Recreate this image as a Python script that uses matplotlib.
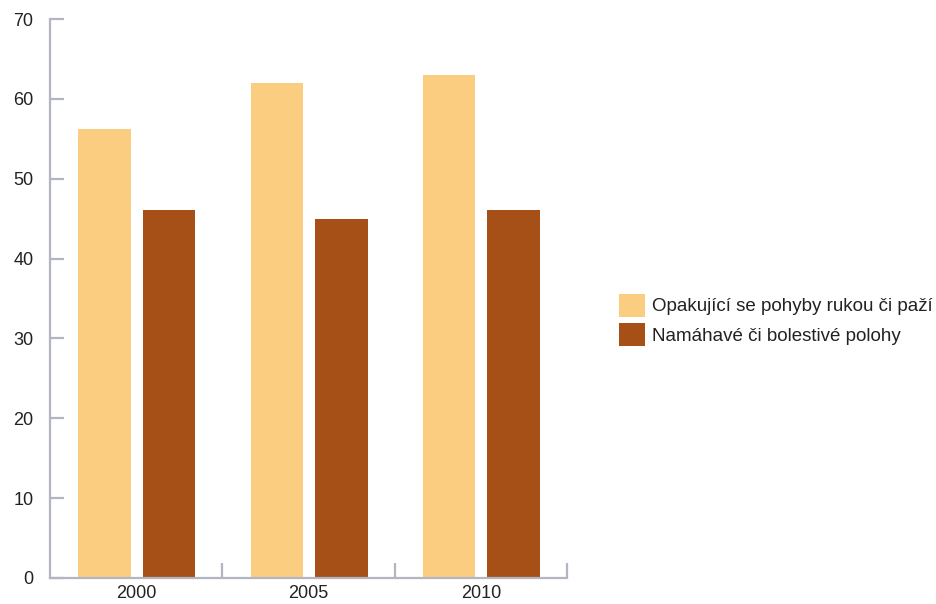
import matplotlib
matplotlib.use("Agg")
import matplotlib.pyplot as plt
import numpy as np
from matplotlib.patches import Patch

plt.rcParams['font.family'] = ['Liberation Sans', 'DejaVu Sans']

years = ["2000", "2005", "2010"]
repetitive_moves = [56.2, 62.0, 63.0]
painful_positions = [46.1, 45.0, 46.1]
series_labels = ["Opakující se pohyby rukou či paží", "Namáhavé či bolestivé polohy"]
y_ticks = [0, 10, 20, 30, 40, 50, 60, 70]

light = "#fbcd80"
dark = "#a65018"
axis_col = "#b3b6c0"
text_col = "#222222"

fig = plt.figure(figsize=(9.37, 6.04), dpi=100)
ax = fig.add_axes([50 / 937, 1 - 578 / 604, (567 - 50) / 937, (578 - 19) / 604])

x = np.arange(len(years))
w = 0.305
ax.bar(x - 0.184, repetitive_moves, width=w, color=light, edgecolor="none")
ax.bar(x + 0.19, painful_positions, width=w, color=dark, edgecolor="none")

ax.set_xlim(-0.5, len(years) - 0.5)
ax.set_ylim(0, 70)

for s in ("top", "right"):
    ax.spines[s].set_visible(False)
for s in ("left", "bottom"):
    ax.spines[s].set_color(axis_col)
    ax.spines[s].set_linewidth(1.6)

ax.set_yticks(y_ticks)
ax.set_yticklabels([str(v) for v in y_ticks])
ax.tick_params(axis="y", direction="in", length=10, width=1.6, color=axis_col,
               pad=12, labelsize=13, labelcolor=text_col)

ax.set_xticks(x)
ax.set_xticklabels(years)
ax.tick_params(axis="x", which="major", length=0, pad=5, labelsize=13, labelcolor=text_col)
ax.set_xticks(x + 0.5, minor=True)
ax.tick_params(axis="x", which="minor", direction="in", length=11, width=1.6, color=axis_col)

handles = [Patch(facecolor=light, edgecolor="none"), Patch(facecolor=dark, edgecolor="none")]
fig.legend(handles, series_labels, loc="center left",
           bbox_to_anchor=(619 / 937, 1 - 320 / 604), frameon=False,
           fontsize=13.5, handlelength=1.39, handleheight=1.49,
           handletextpad=0.37, labelspacing=0.37, labelcolor=text_col,
           borderaxespad=0, borderpad=0)

fig.savefig("out.png", dpi=100)
